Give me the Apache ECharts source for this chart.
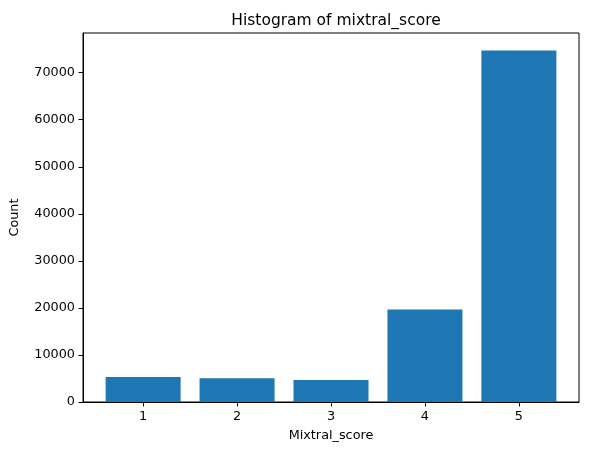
<!DOCTYPE html>
<html><head><meta charset="utf-8">
<script src="https://cdn.jsdelivr.net/npm/echarts@6/dist/echarts.min.js"></script>
<style>html,body{margin:0;padding:0;background:#fff}#c{width:589px;height:455px}</style>
</head><body><div id="c"></div>
<script>
const scores = [1, 2, 3, 4, 5];
const counts = [5300, 5070, 4650, 19650, 74700];
const yTicks = [0, 10000, 20000, 30000, 40000, 50000, 60000, 70000];

const chart = echarts.init(document.getElementById('c'), null, {renderer: 'canvas'});
const font = 'DejaVu Sans';
const axisLine = {show: true, lineStyle: {color: '#000', width: 1}};
chart.setOption({
  animation: false,
  textStyle: {fontFamily: font},
  title: {text: 'Histogram of mixtral_score', left: 331, top: 8, textAlign: 'center',
    textStyle: {fontFamily: font, fontSize: 15.5, fontWeight: 'normal', color: '#000'}},
  grid: {left: 83, right: 10, top: 33, bottom: 53, show: true, borderColor: '#000', borderWidth: 1, containLabel: false},
  xAxis: {
    type: 'value', min: 0.36, max: 5.64,
    name: 'Mixtral_score', nameLocation: 'middle', nameGap: 27,
    nameTextStyle: {fontFamily: font, fontSize: 12.8, color: '#000'},
    axisLine: axisLine,
    axisTick: {show: true, length: 4.5, customValues: scores, lineStyle: {color: '#000'}},
    axisLabel: {customValues: scores, margin: 8, fontFamily: font, fontSize: 12.8, color: '#000', formatter: v => String(v)},
    splitLine: {show: false}
  },
  yAxis: {
    type: 'value', min: 0, max: 78435,
    name: 'Count', nameLocation: 'middle', nameGap: 62,
    nameTextStyle: {fontFamily: font, fontSize: 12.8, color: '#000'},
    axisLine: axisLine,
    axisTick: {show: true, length: 4.5, customValues: yTicks, lineStyle: {color: '#000'}},
    axisLabel: {customValues: yTicks, margin: 8, fontFamily: font, fontSize: 12.8, color: '#000', formatter: v => String(v)},
    splitLine: {show: false}
  },
  series: [{
    type: 'bar',
    data: scores.map((s, i) => [s, counts[i]]),
    barWidth: 75,
    itemStyle: {color: '#1f77b4'}
  }]
});
</script></body></html>
